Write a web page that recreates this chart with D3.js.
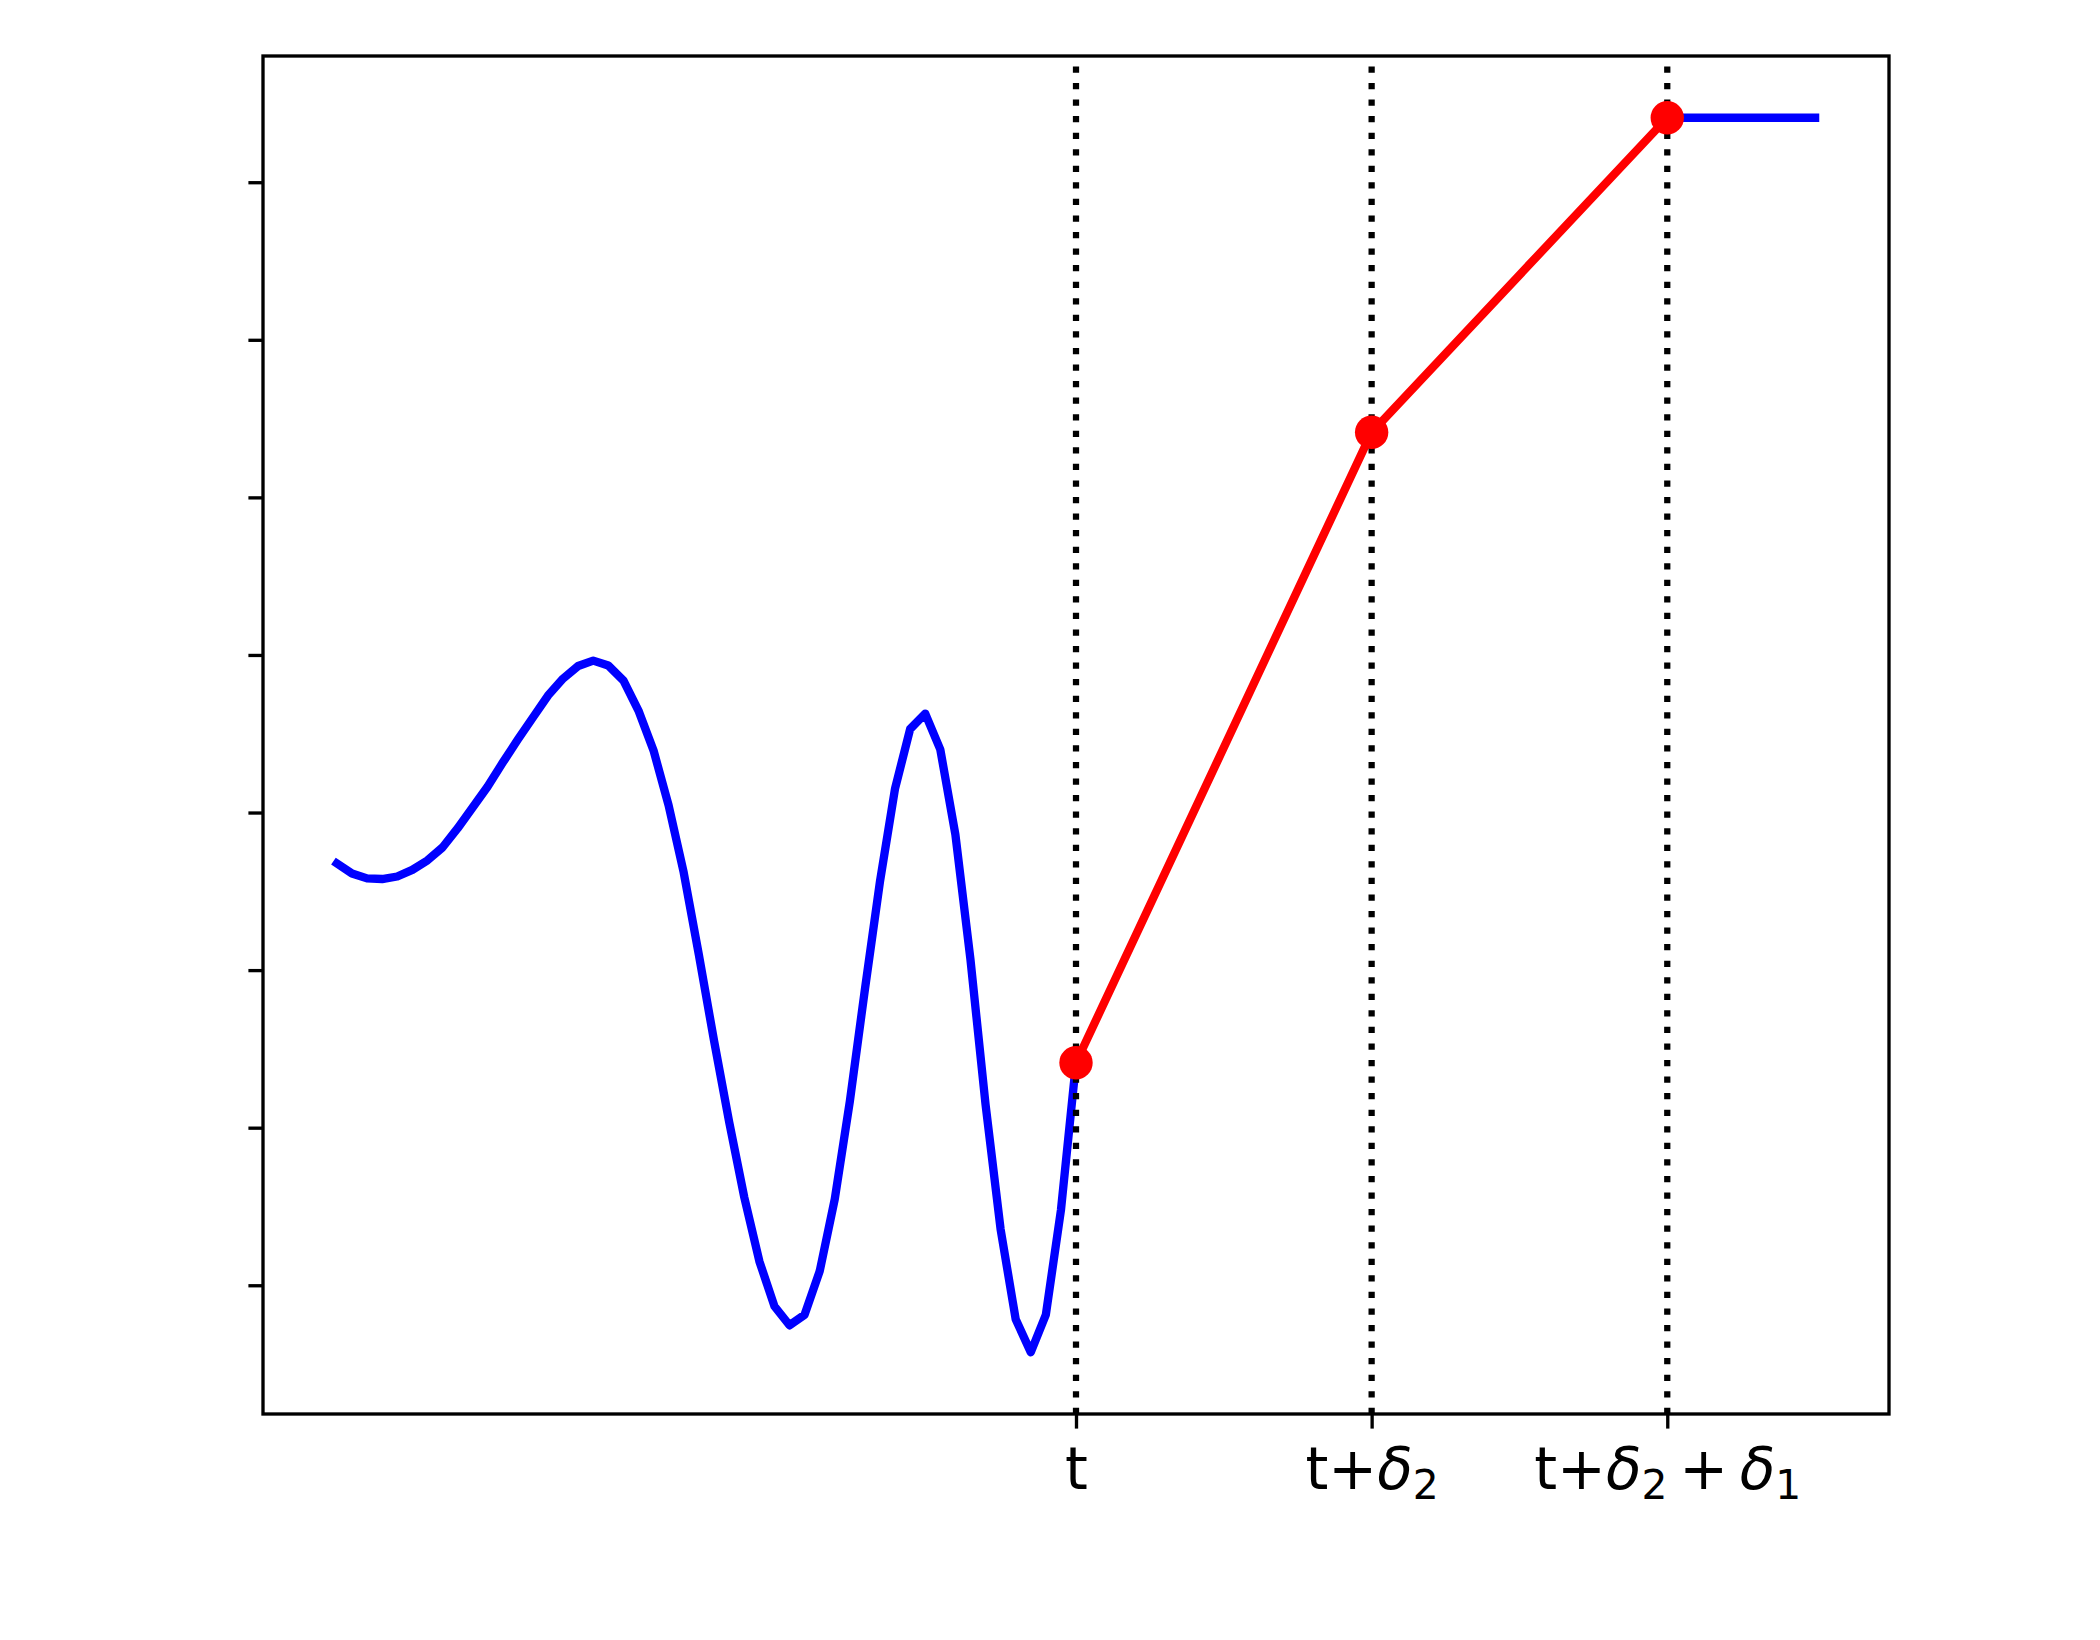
<!DOCTYPE html>
<html>
<head>
<meta charset="utf-8">
<script src="https://cdn.jsdelivr.net/npm/d3@7"></script>
<style>
  html, body { margin: 0; padding: 0; background: #fff; }
  #chart { width: 2100px; height: 1640px; }
</style>
</head>
<body>
<div id="chart"></div>
<script>
// curva azul (senal) muestreada de 0 a t
const curveX = [0, 0.051, 0.102, 0.153, 0.204, 0.255, 0.306, 0.357, 0.408, 0.459,
  0.510, 0.561, 0.612, 0.663, 0.714, 0.765, 0.816, 0.867, 0.918, 0.969,
  1.020, 1.071, 1.122, 1.173, 1.224, 1.276, 1.327, 1.378, 1.429, 1.480,
  1.531, 1.582, 1.633, 1.684, 1.735, 1.786, 1.837, 1.888, 1.939, 1.990,
  2.041, 2.092, 2.143, 2.194, 2.245, 2.296, 2.347, 2.398, 2.449, 2.500];
const curveY = [2.677, 2.613, 2.582, 2.578, 2.594, 2.636, 2.696, 2.778, 2.899, 3.032,
  3.165, 3.317, 3.463, 3.603, 3.742, 3.850, 3.930, 3.964, 3.933, 3.838,
  3.647, 3.394, 3.045, 2.620, 2.100, 1.548, 1.034, 0.558, 0.152, -0.133,
  -0.254, -0.187, 0.089, 0.546, 1.167, 1.878, 2.563, 3.153, 3.530, 3.628,
  3.400, 2.861, 2.068, 1.148, 0.355, -0.216, -0.425, -0.187, 0.476, 1.412];

// puntos rojos (t, t+d2, t+d2+d1)
const stepX = [2.5, 3.5, 4.5];
const stepY = [1.412, 5.413, 7.409];

// tramo final constante
const holdX = [4.5, 5.0];
const holdY = [7.409, 7.409];

const yTicks = [0, 1, 2, 3, 4, 5, 6, 7];
const xTicks = [2.5, 3.5, 4.5];
// cada etiqueta: trozos [texto, estilo]
const xTickLabels = [
  [["t", "n"]],
  [["t+", "n"], ["\u03b4", "i"], ["2", "s"]],
  [["t+", "n"], ["\u03b4", "i"], ["2", "s"], ["\u2009+\u2009", "n"], ["\u03b4", "i"], ["1", "s"]]
];

const W = 2100, H = 1640;
const box = { left: 263, right: 1889, top: 56, bottom: 1414 };
const lw = 8.33, dotW = 6.25, spineW = 3.33, tickLen = 14.6, fontPx = 58.3;

const svg = d3.select("#chart").append("svg")
  .attr("width", W)
  .attr("height", H)
  .attr("viewBox", `0 0 ${W} ${H}`);

svg.append("rect").attr("width", W).attr("height", H).attr("fill", "#fff");

const x = d3.scaleLinear().domain([-0.25, 5.25]).range([box.left, box.right]);
const y = d3.scaleLinear().domain([-0.817, 7.801]).range([box.bottom, box.top]);

const line = d3.line().x(d => x(d[0])).y(d => y(d[1]));

// Curva azul
svg.append("path")
  .datum(curveX.map((v, i) => [v, curveY[i]]))
  .attr("fill", "none")
  .attr("stroke", "#0000ff")
  .attr("stroke-width", lw)
  .attr("stroke-linejoin", "round")
  .attr("stroke-linecap", "square")
  .attr("d", line);

// Tramo azul final
svg.append("path")
  .datum(holdX.map((v, i) => [v, holdY[i]]))
  .attr("fill", "none")
  .attr("stroke", "#0000ff")
  .attr("stroke-width", lw)
  .attr("stroke-linecap", "square")
  .attr("d", line);

// Linea roja
svg.append("path")
  .datum(stepX.map((v, i) => [v, stepY[i]]))
  .attr("fill", "none")
  .attr("stroke", "#ff0000")
  .attr("stroke-width", lw)
  .attr("stroke-linejoin", "round")
  .attr("stroke-linecap", "square")
  .attr("d", line);

// Lineas verticales punteadas
svg.selectAll("line.vline")
  .data(xTicks)
  .enter().append("line")
  .attr("class", "vline")
  .attr("x1", d => x(d)).attr("x2", d => x(d))
  .attr("y1", box.bottom).attr("y2", box.top)
  .attr("stroke", "#000")
  .attr("stroke-width", dotW)
  .attr("stroke-dasharray", "6.25 10.31");

// Marcadores
svg.selectAll("circle.pt")
  .data(stepX)
  .enter().append("circle")
  .attr("class", "pt")
  .attr("cx", d => x(d))
  .attr("cy", (d, i) => y(stepY[i]))
  .attr("r", 16.7)
  .attr("fill", "#ff0000");

// Ejes
const yAxis = svg.append("g")
  .attr("transform", `translate(${box.left},0)`)
  .call(d3.axisLeft(y).tickValues(yTicks).tickSize(tickLen).tickFormat(""));

const xAxis = svg.append("g")
  .attr("transform", `translate(0,${box.bottom})`)
  .call(d3.axisBottom(x).tickValues(xTicks).tickSize(tickLen).tickFormat(""));

[xAxis, yAxis].forEach(g => {
  g.select(".domain").remove();
  g.selectAll(".tick line").attr("stroke", "#000").attr("stroke-width", spineW);
});

// Etiquetas del eje x (texto con subindices)
xAxis.selectAll(".tick").each(function (d, i) {
  const t = d3.select(this).append("text")
    .attr("y", 75)
    .attr("fill", "#000")
    .attr("text-anchor", "middle")
    .attr("font-family", "DejaVu Sans")
    .attr("font-size", fontPx);
  let shifted = false;
  xTickLabels[i].forEach(([txt, kind]) => {
    const s = t.append("tspan").text(txt);
    if (kind === "i") s.attr("font-style", "italic");
    if (kind === "s") {
      s.attr("font-size", fontPx * 0.7).attr("dy", 10);
      shifted = true;
    } else if (shifted) {
      s.attr("dy", -10);
      shifted = false;
    }
  });
});

// Marco
svg.append("rect")
  .attr("x", box.left).attr("y", box.top)
  .attr("width", box.right - box.left)
  .attr("height", box.bottom - box.top)
  .attr("fill", "none")
  .attr("stroke", "#000")
  .attr("stroke-width", spineW);
</script>
</body>
</html>
